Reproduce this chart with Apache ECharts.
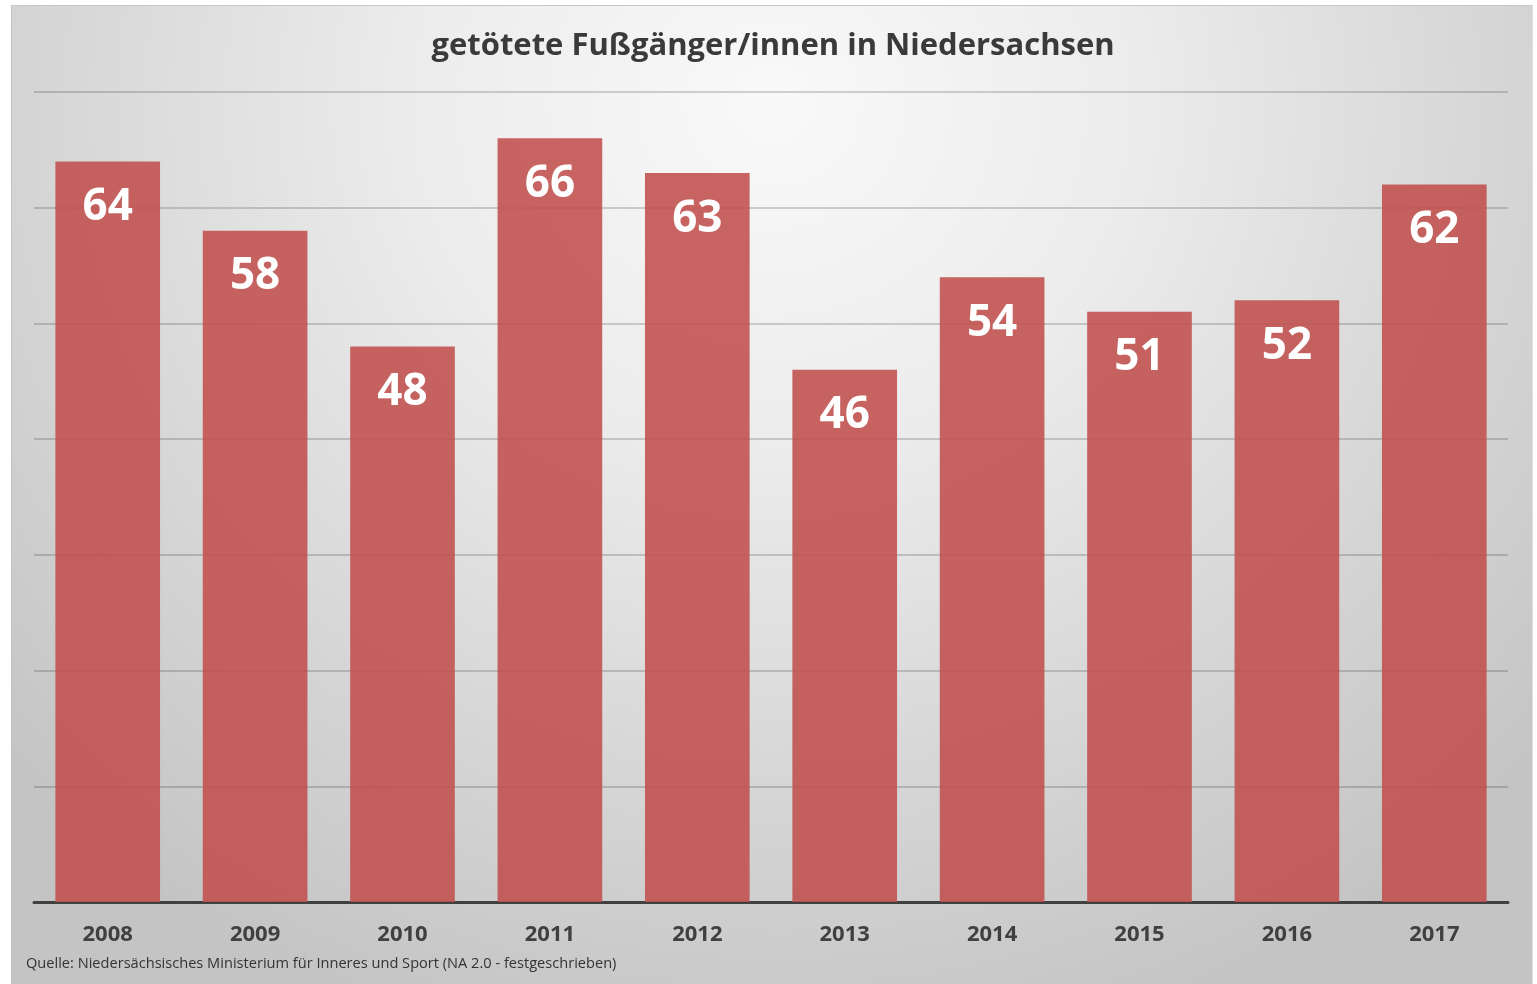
<!DOCTYPE html>
<html>
<head>
<meta charset="utf-8">
<script src="https://cdn.jsdelivr.net/npm/echarts@6/dist/echarts.min.js"></script>
<style>
  html, body { margin: 0; padding: 0; background: #fff; }
  #bg {
    position: absolute; left: 11px; top: 5px; width: 1520px; height: 978px;
    border-top: 1px solid #c8c8c8; border-left: 1px solid #c0c0c0; border-right: 1px solid #e0e0e0;
    background: radial-gradient(ellipse 68% 100% at 50% 10%, #f9f9f9 0%, #ececec 35%, #d6d6d6 70%, #c4c4c4 100%);
  }
  #chart { position: absolute; left: 0; top: 0; width: 1537px; height: 984px; }
</style>
</head>
<body>
<div id="bg"></div>
<div id="chart"></div>
<script>
// data
const years = ["2008", "2009", "2010", "2011", "2012", "2013", "2014", "2015", "2016", "2017"];
const killed = [64, 58, 48, 66, 63, 46, 54, 51, 52, 62];

const titleText = "getötete Fußgänger/innen in Niedersachsen";
const sourceText = "Quelle: Niedersächsisches Ministerium für Inneres und Sport (NA 2.0 - festgeschrieben)";

const font = "'Open Sans', 'DejaVu Sans', sans-serif";

var myChart = echarts.init(document.getElementById("chart"), null, { renderer: "canvas" });

var option = {
  backgroundColor: "transparent",
  animation: false,
  grid: { left: 34, right: 29, top: 92, bottom: 82 },
  graphic: [
    {
      type: "text",
      x: 773, y: 46,
      style: {
        text: titleText,
        font: "bold 31px " + font,
        fill: "#3a3a3a",
        textAlign: "center",
        textVerticalAlign: "middle"
      }
    },
    {
      type: "text",
      x: 26, y: 964,
      style: {
        text: sourceText,
        font: "14.6px " + font,
        fill: "#333333",
        textAlign: "left",
        textVerticalAlign: "middle"
      }
    }
  ],
  xAxis: {
    type: "category",
    data: years,
    axisLine: { lineStyle: { color: "#404040", width: 3 } },
    axisTick: { show: false },
    axisLabel: {
      margin: 22,
      fontFamily: font,
      fontSize: 22,
      fontWeight: "bold",
      color: "#404040"
    }
  },
  yAxis: {
    type: "value",
    min: 0,
    max: 70,
    interval: 10,
    axisLabel: { show: false },
    axisLine: { show: false },
    axisTick: { show: false },
    splitLine: { lineStyle: { color: "rgba(0,0,0,0.22)", width: 1.5 } }
  },
  series: [
    {
      type: "bar",
      data: killed,
      barWidth: "71%",
      itemStyle: { color: "rgba(192,80,77,0.88)" },
      label: {
        show: true,
        position: "insideTop",
        distance: 24,
        fontFamily: font,
        fontSize: 44,
        fontWeight: "bold",
        color: "#ffffff"
      }
    }
  ]
};

option && myChart.setOption(option);
</script>
</body>
</html>
